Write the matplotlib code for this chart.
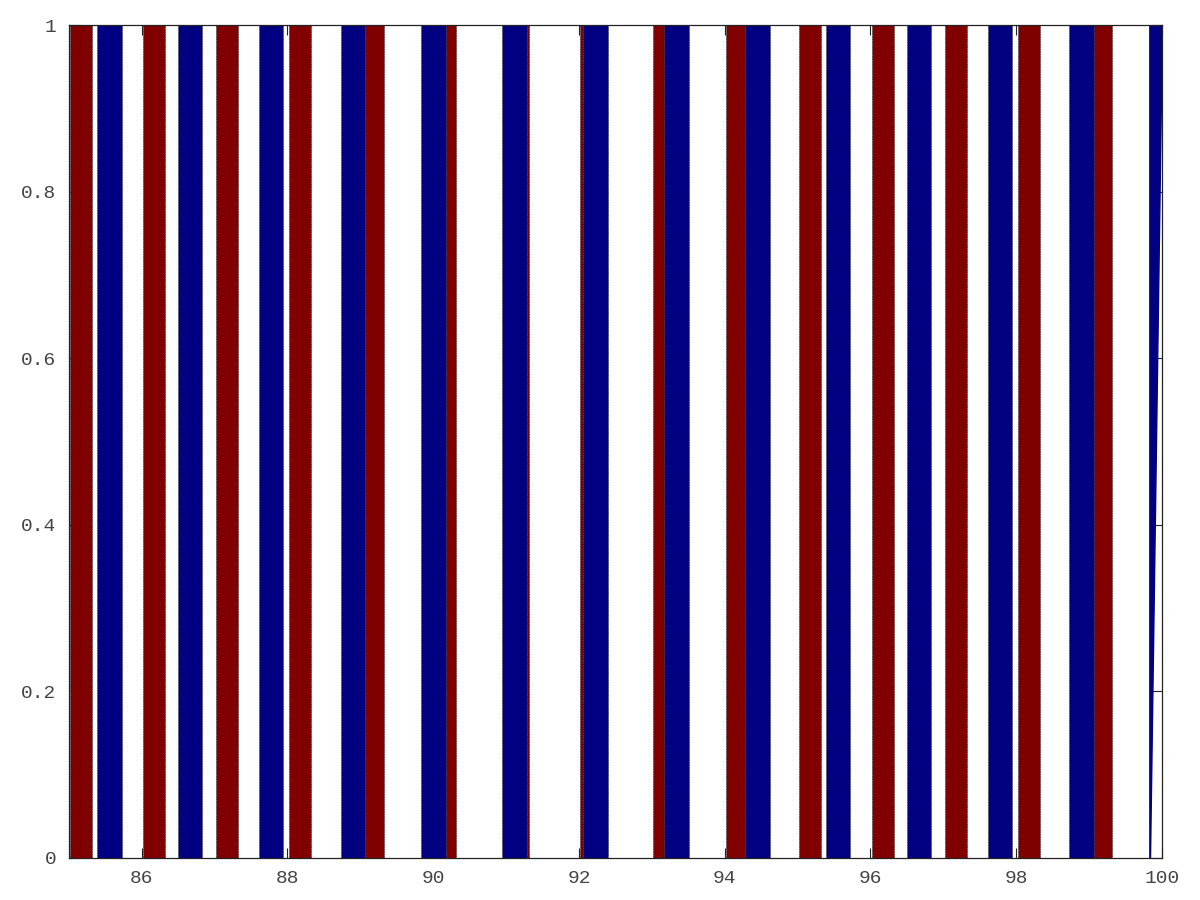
import matplotlib
matplotlib.use('Agg')
import matplotlib.pyplot as plt

# левые края столбцов, читал по картинке
red_left = [85.02, 86.02, 87.02, 88.02, 89.02, 90.02, 91.02, 92.02,
            93.02, 94.02, 95.02, 96.02, 97.02, 98.02, 99.02]
red_width = 0.30
blue_left = [85.39, 86.50, 87.61, 88.73, 89.84, 90.95, 92.06, 93.17,
             94.28, 95.39, 96.50, 97.61, 98.73]
blue_width = 0.335
heights = 1.0
# последний синий у правого края обрезан в клин
wedge_x = [99.84, 99.84, 100.0]
wedge_y = [0.0, 1.0, 1.0]

x_ticks = [86, 88, 90, 92, 94, 96, 98, 100]
y_ticks = [0, 0.2, 0.4, 0.6, 0.8, 1]
y_labels = ['0', '0.2', '0.4', '0.6', '0.8', '1']

RED, BLUE = '#800000', '#000080'
edge = dict(edgecolor='#4a4a4a', linewidth=0.6, linestyle=(0, (2, 1)))

fig = plt.figure(figsize=(12, 9), dpi=100)
ax = fig.add_axes([0.0573, 0.0467, 0.9110, 0.9255])

ax.bar(red_left, heights, width=red_width, align='edge', color=RED, zorder=2, **edge)
ax.bar(blue_left, heights, width=blue_width, align='edge', color=BLUE, zorder=3, **edge)
ax.fill(wedge_x, wedge_y, color=BLUE, zorder=3)
ax.plot(wedge_x, wedge_y, color=BLUE, lw=1.2, zorder=3)

ax.set_xlim(85, 100)
ax.set_ylim(0, 1)
ax.set_xticks(x_ticks)
ax.set_yticks(y_ticks)
ax.set_yticklabels(y_labels)
ax.tick_params(direction='in', length=7, width=0.8, color='#222222',
               top=True, right=True, labelsize=14, labelcolor='#444444', pad=9)
for lab in ax.get_xticklabels() + ax.get_yticklabels():
    lab.set_family('Liberation Mono')
for s in ax.spines.values():
    s.set_color('#222222'); s.set_linewidth(0.9); s.set_zorder(5)

fig.savefig('out.png', dpi=100)
